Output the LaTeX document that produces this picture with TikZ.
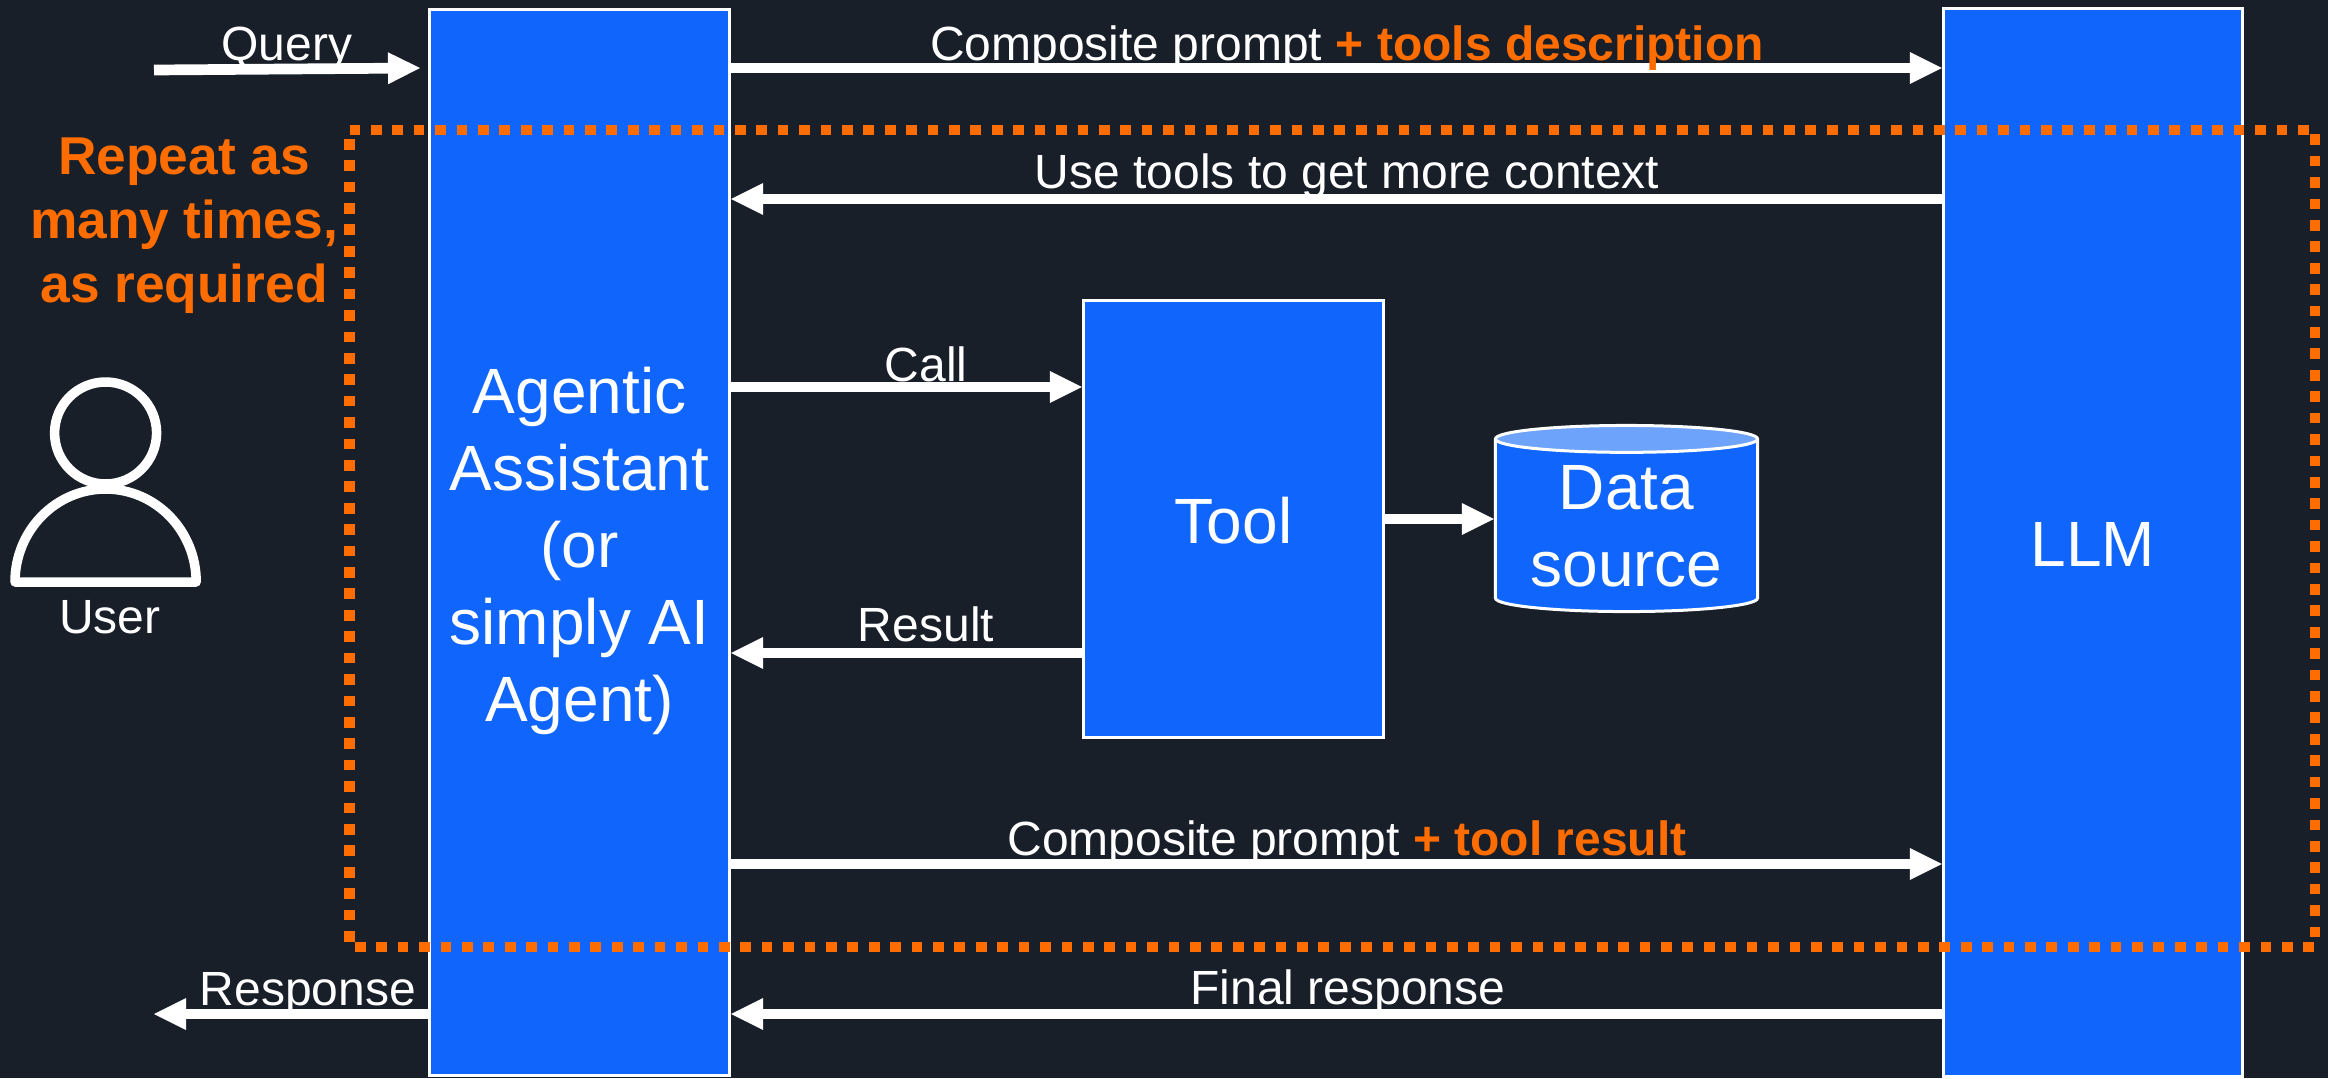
\documentclass[tikz,border=0pt]{standalone}
\usepackage{fontspec}
\setmainfont{Liberation Sans}
\usepackage{tikz}
\usetikzlibrary{arrows.meta,shapes.geometric}
\definecolor{bgdark}{RGB}{24,31,41}
\definecolor{boxblue}{RGB}{16,102,252}
\definecolor{toplight}{RGB}{110,163,251}
\definecolor{hiorange}{RGB}{255,108,0}
\tikzset{
  bigtxt/.style={text=white,align=center,font=\fontsize{18.2}{21.9}\selectfont},
  lane/.style={draw=white,line width=0.03cm,fill=boxblue,inner sep=0pt,bigtxt},
  lbl/.style={text=white,anchor=base,inner sep=0pt,font=\fontsize{13.65}{16}\selectfont},
  flow/.style={draw=white,line width=0.107cm,-{Triangle[length=0.32cm,width=0.32cm,line width=0pt,fill=white]}},
}
\begin{document}
\begin{tikzpicture}[x=0.01cm,y=-0.01cm]
\fill[bgdark] (0,0) rectangle (2328,1078);
\useasboundingbox (0,0) rectangle (2328,1078);
% boxes
\node[lane,minimum width=3.00cm,minimum height=10.66cm,
  label={[bigtxt,yshift=-0.08cm]center:Agentic\\Assistant\\(or\\simply AI\\Agent)}] (A) at (579.5,542.5) {};
\node[lane,minimum width=2.99cm,minimum height=10.67cm,
  label={[bigtxt,yshift=-0.02cm]center:LLM}] (L) at (2093,542.5) {};
\node[lane,minimum width=3.00cm,minimum height=4.37cm,
  label={[bigtxt,yshift=-0.015cm]center:Tool}] (T) at (1233.5,519) {};
\node[lane,fill=none,shape=cylinder,shape border rotate=90,aspect=0.14,cylinder uses custom fill,anchor=shape center,
  cylinder body fill=boxblue,cylinder end fill=toplight,minimum width=2.62cm,minimum height=1.86cm] (D) at (1626.5,518.5) {Data\\source};
% ends on the boxes
\coordinate (Qs) at (154,70);
\coordinate (Qe) at (420,68);
\coordinate (Rs) at (A.west |- 0,1014);
\coordinate (Re) at (154,1014);
\coordinate (A1) at (A.east |- 0,68);
\coordinate (L1) at (L.west |- 0,68);
\coordinate (A2) at (A.east |- 0,199);
\coordinate (L2) at (L.west |- 0,199);
\coordinate (A3) at (A.east |- 0,387);
\coordinate (T3) at (T.west |- 0,387);
\coordinate (A4) at (A.east |- 0,653);
\coordinate (T4) at (T.west |- 0,653);
\coordinate (A5) at (A.east |- 0,864);
\coordinate (L5) at (L.west |- 0,864);
\coordinate (A6) at (A.east |- 0,1014);
\coordinate (L6) at (L.west |- 0,1014);
\draw[flow] (Qs) -- (Qe);
\draw[flow] (Rs) -- (Re);
\draw[flow] (A1) -- (L1);
\draw[flow] (L2) -- (A2);
\draw[flow] (A3) -- (T3);
\draw[flow] (T4) -- (A4);
\draw[flow] (A5) -- (L5);
\draw[flow] (L6) -- (A6);
\draw[flow] (T.east) -- (T.east -| D.west);
% labels
\node[lbl] (q) at (287,60) {Query};
\node[lbl] (r) at (308,1005) {Response};
\node[lbl] (c1) at (1347,60) {Composite prompt \textcolor{hiorange}{\textbf{+ tools description}}};
\node[lbl] (u) at (1347,188) {Use tools to get more context};
\node[lbl] (c) at (926,381) {Call};
\node[lbl] (s) at (926,641) {Result};
\node[lbl] (c2) at (1347,855) {Composite prompt \textcolor{hiorange}{\textbf{+ tool result}}};
\node[lbl] (f) at (1348,1004) {Final response};
\node[lbl] (n) at (110,633) {User};
\node[anchor=base,inner sep=0pt,align=center,text=hiorange,font=\fontsize{15.15}{18.2}\selectfont\bfseries] (o) at (184,302) {Repeat as\\many times,\\as required};
% user icon
\draw[white,line width=0.095cm] (105.6,433) circle (51);
\draw[white,line width=0.095cm,line join=round] (15,582) arc[start angle=180,end angle=360,x radius=90.6,y radius=93] -- cycle;
% repeat frame
\draw[hiorange,line width=0.107cm,dash pattern=on 0.107cm off 0.107cm] (349.5,130) -- (2315,130) -- (2315,947) -- (349.5,947) -- cycle;
\end{tikzpicture}
\end{document}
